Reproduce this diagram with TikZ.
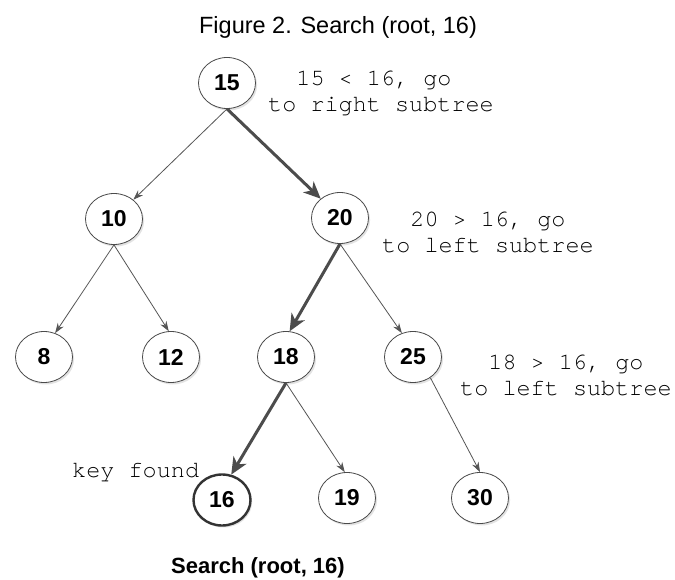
\documentclass[tikz,border=0pt]{standalone}
\usepackage{fontspec}
\setmainfont{Liberation Sans}
\newfontfamily\monofnt{TeX Gyre Cursor}
\usetikzlibrary{arrows.meta,shadows,shapes.geometric}
\definecolor{edgegray}{HTML}{555555}
\definecolor{ringgray}{HTML}{4A4A4A}
\begin{document}
\begin{tikzpicture}[x=1pt,y=-1pt,
  treenode/.style={ellipse,draw=ringgray,line width=0.8pt,fill=white,
    minimum width=57pt,minimum height=51pt,inner sep=0pt,
    font=\fontsize{23}{26}\selectfont\bfseries,
    drop shadow={opacity=0.22,shadow xshift=1.6pt,shadow yshift=-2pt}},
  foundnode/.style={treenode,draw=black!80,line width=2.4pt},
  thinedge/.style={draw=edgegray,line width=0.8pt,-{Stealth[length=10pt,width=7pt]}},
  pathedge/.style={draw=edgegray!90!black,line width=3pt,-{Stealth[length=17pt,width=15pt,inset=5pt]}},
  note/.style={font=\monofnt\fontsize{23.5}{26}\selectfont,align=left,anchor=north west,inner sep=0pt,text=black}
]
\useasboundingbox (0,0) rectangle (675,580);
\fill[white] (0,0) rectangle (675,580);

\node[font=\fontsize{23.5}{27}\selectfont] (title) at (338,27) {Figure 2. Search (root, 16)};

\node[treenode] (n15) at (227,83) {15};
\node[treenode] (n10) at (114,219) {10};
\node[treenode] (n20) at (340,218) {20};
\node[treenode] (n8)  at (44,357) {8};
\node[treenode] (n12) at (171,357) {12};
\node[treenode] (n18) at (286,357) {18};
\node[treenode] (n25) at (413,357) {25};
\node[foundnode] (n16) at (222,500) {16};
\node[treenode] (n19) at (347,498) {19};
\node[treenode] (n30) at (480,498) {30};

\draw[thinedge] (n15.south) -- (n10.45);
\draw[pathedge] (n15.south) -- (n20.135);
\draw[thinedge] (n10.south) -- (n8.65);
\draw[thinedge] (n10.south) -- (n12.95);
\draw[pathedge] (n20.south) -- (n18.82);
\draw[thinedge] (n20.south) -- (n25.115);
\draw[pathedge] (n18.south) -- (n16.70);
\draw[thinedge] (n18.south) -- (n19.95);
\draw[thinedge] (n25.-50) -- (n30.90);

\node[note] (l1) at (268,71) {\phantom{xx}15 < 16, go\\[0pt]to right subtree};
\node[note] (l2) at (382,212) {\phantom{xx}20 > 16, go\\[0pt]to left subtree};
\node[note] (l3) at (460,355) {\phantom{xx}18 > 16, go\\[0pt]to left subtree};
\node[note] (kf) at (72,463) {key found};

\node[font=\fontsize{22}{26}\selectfont\bfseries] (cap) at (258,568) {Search (root, 16)};
\end{tikzpicture}
\end{document}
